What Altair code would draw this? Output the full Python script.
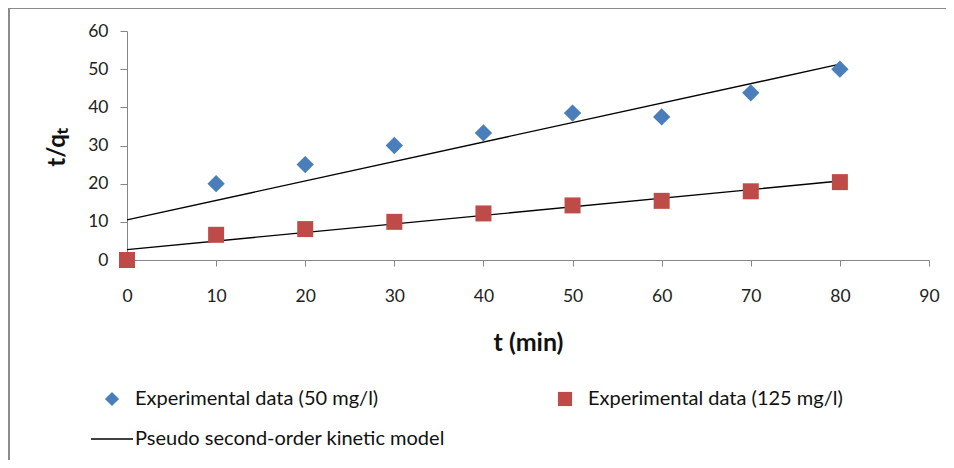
import altair as alt
import pandas as pd

# ---- data ----
t_min = [0, 10, 20, 30, 40, 50, 60, 70, 80]
exp_50 = [None, 20.0, 25.0, 30.0, 33.3, 38.5, 37.5, 43.8, 50.0]
exp_125 = [0.0, 6.6, 8.1, 10.0, 12.2, 14.3, 15.5, 18.0, 20.4]
model_t = [0, 80]
model_50 = [10.5, 51.3]
model_125 = [2.7, 20.7]

S50 = "Experimental data (50 mg/l)"
S125 = "Experimental data (125 mg/l)"
MODEL = "Pseudo second-order kinetic model"

rows = []
for t, v in zip(t_min, exp_50):
    if v is not None:
        rows.append({"t": t, "v": v, "series": S50})
for t, v in zip(t_min, exp_125):
    rows.append({"t": t, "v": v, "series": S125})
pts = pd.DataFrame(rows)

lrows = []
for t, v in zip(model_t, model_50):
    lrows.append({"t": t, "v": v, "fit": "50", "model": MODEL})
for t, v in zip(model_t, model_125):
    lrows.append({"t": t, "v": v, "fit": "125", "model": MODEL})
lines = pd.DataFrame(lrows)

FONT = "Lato"
AXIS_COLOR = "#868686"

x_scale = alt.Scale(domain=[0, 90], nice=False)
y_scale = alt.Scale(domain=[0, 60], nice=False)

x_axis = alt.Axis(values=list(range(0, 91, 10)), title="t (min)", grid=False,
                  domainColor=AXIS_COLOR, tickColor=AXIS_COLOR, tickSize=6,
                  labelFont=FONT, labelFontSize=17.5, labelColor="#222",
                  labelPadding=21, titleFont=FONT, titleFontSize=25,
                  titleFontWeight="bold", titleColor="#111", titleY=82,
                  titleBaseline="middle", labelFlush=False)
y_axis = alt.Axis(values=list(range(0, 61, 10)), title="t/qₜ", grid=False,
                  domainColor=AXIS_COLOR, tickColor=AXIS_COLOR, tickSize=7,
                  labelFont=FONT, labelFontSize=17.5, labelColor="#222",
                  labelPadding=12, titleFont=FONT, titleFontSize=24,
                  titleFontWeight="bold", titleColor="#111", titleX=-70,
                  titleY=116, titleBaseline="middle", titleAlign="center",
                  labelFlush=False)

color_scale = alt.Scale(domain=[S50, S125], range=["#4A7EBB", "#BE4B48"])
shape_scale = alt.Scale(domain=[S50, S125], range=["diamond", "square"])

sym_legend = alt.Legend(title=None, orient="none", legendX=-25, legendY=358,
                        direction="horizontal", columns=2, columnPadding=176,
                        labelFont=FONT, labelFontSize=20, labelColor="#111",
                        labelLimit=0, symbolSize=200, labelOffset=13,
                        padding=0, symbolStrokeWidth=0)

base = alt.Chart(pts)

diamonds = base.transform_filter(alt.datum.series == S50).mark_point(
    filled=True, size=300, opacity=1).encode(
    x=alt.X("t:Q", scale=x_scale, axis=x_axis),
    y=alt.Y("v:Q", scale=y_scale, axis=y_axis),
    color=alt.Color("series:N", scale=color_scale, legend=sym_legend),
    shape=alt.Shape("series:N", scale=shape_scale, legend=sym_legend),
)
squares = base.transform_filter(alt.datum.series == S125).mark_point(
    filled=True, size=256, opacity=1).encode(
    x=alt.X("t:Q", scale=x_scale, axis=x_axis),
    y=alt.Y("v:Q", scale=y_scale, axis=y_axis),
    color=alt.Color("series:N", scale=color_scale, legend=sym_legend),
    shape=alt.Shape("series:N", scale=shape_scale, legend=sym_legend),
)

fit = alt.Chart(lines).mark_line(strokeWidth=1.3).encode(
    x=alt.X("t:Q", scale=x_scale, axis=x_axis),
    y=alt.Y("v:Q", scale=y_scale, axis=y_axis),
    detail="fit:N",
    stroke=alt.Stroke("model:N", scale=alt.Scale(range=["#000000"]),
                      legend=alt.Legend(title=None, orient="none", legendX=-37,
                                        legendY=386, symbolType="stroke",
                                        symbolSize=1764, symbolStrokeWidth=1.3,
                                        labelOffset=1, labelFont=FONT,
                                        labelFontSize=20, labelColor="#111",
                                        labelLimit=0, padding=0)),
)

frame_left = alt.Chart(pts).mark_rule(color="#8a8a8a", strokeWidth=1.5).encode(
    x=alt.value(-118), y=alt.value(-23), y2=alt.value(460))
frame_top = alt.Chart(pts).mark_rule(color="#8a8a8a", strokeWidth=1.5).encode(
    x=alt.value(-118), x2=alt.value(830), y=alt.value(-23))

chart = alt.layer(frame_left, frame_top, fit, diamonds, squares).properties(
    width=802, height=229,
    autosize=alt.AutoSizeParams(type="none"),
    padding={"left": 119, "top": 23, "right": 17, "bottom": 200},
    background="white",
).configure_view(stroke=None).resolve_scale(color="shared", shape="shared")

chart.save("out.html", embed_options={"renderer": "svg", "actions": False})
